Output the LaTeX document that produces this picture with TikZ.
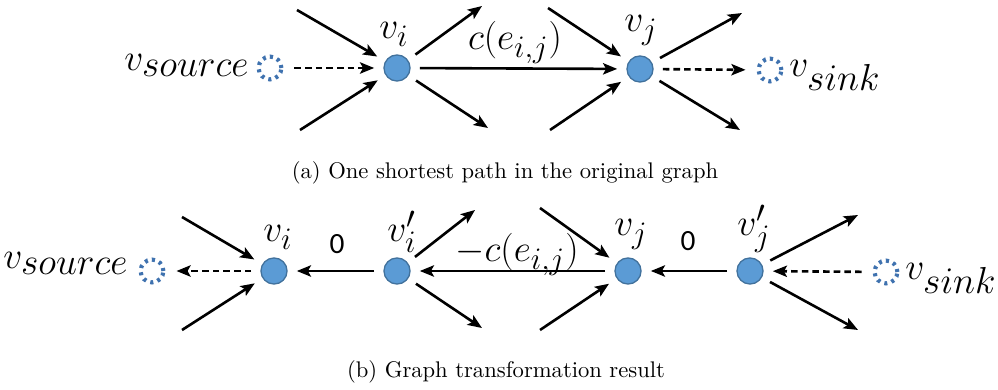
\documentclass[tikz,border=0pt]{standalone}
\usepackage{fontspec}
\usetikzlibrary{arrows.meta}
\newfontfamily\calib{Carlito}
\DeclareMathSizes{18}{18}{15.8}{12}
\DeclareMathSizes{19}{19}{16.8}{13}
\definecolor{vfill}{HTML}{5B9BD5}
\definecolor{vline}{HTML}{41719C}
\definecolor{gline}{HTML}{3F72AF}
\tikzset{
  vtx/.style={circle, fill=vfill, draw=vline, line width=0.6pt, minimum size=12pt, inner sep=0pt, outer sep=4.5pt},
  ghost/.style={circle, draw=gline, line width=1.9pt, dash pattern=on 1.4pt off 2.0pt, minimum size=10.5pt, inner sep=0pt, outer sep=6pt},
  arr/.style={line width=1.2pt, -{Stealth[length=6.5pt,width=5.2pt,inset=1.4pt]}},
  darr/.style={arr, dash pattern=on 3pt off 1.9pt},
  mlbl/.style={inner sep=0pt, font=\fontsize{18}{22}\selectfont},
  tlbl/.style={inner sep=0pt, font=\fontsize{19}{23}\selectfont},
  zlbl/.style={inner sep=0pt, font=\calib\fontsize{13.5}{16}\selectfont},
  captext/.style={inner sep=0pt, font=\fontsize{10.4}{12}\selectfont}
}
\begin{document}
\begin{tikzpicture}[x=0.46pt,y=-0.46pt]
\path (0,0) rectangle (998,390);
% ---------- (a) ----------
\node[vtx] (vi) at (397,68) {};
\node[vtx] (vj) at (640,69) {};
\node[ghost] (src) at (270,68) {};
\node[ghost] (snk) at (770,70) {};
\node[tlbl, anchor=base east] (lsrc) at (250,71) {$v_{source}$};
\node[tlbl, anchor=base west] (lsnk) at (789,77) {$v_{sink}$};
\node[mlbl, anchor=base] (lvi) at (394,39) {$v_i$};
\node[mlbl, anchor=base] (lvj) at (641,32) {$v_j$};
\node[mlbl, anchor=base] (lc) at (515,50) {$c(e_{i,j})$};
\coordinate (a1) at (297,10);
\coordinate (a2) at (300,130);
\coordinate (a3) at (482,6);
\coordinate (a4) at (488,128);
\coordinate (a5) at (548,8);
\coordinate (a6) at (550,130);
\coordinate (a7) at (742,13);
\coordinate (a8) at (740,130);
\draw[darr] (src) -- (vi);
\draw[arr] (a1) -- (vi);
\draw[arr] (a2) -- (vi);
\draw[arr] (vi) -- (a3);
\draw[arr] (vi) -- (a4);
\draw[arr] (vi) -- (vj);
\draw[arr] (a5) -- (vj);
\draw[arr] (a6) -- (vj);
\draw[arr] (vj) -- (a7);
\draw[arr] (vj) -- (a8);
\draw[darr] (vj) -- (snk);
\node[captext] (capa) at (505,173) {(a) One shortest path in the original graph};
% ---------- (b) ----------
\node[vtx] (bvi) at (274,271) {};
\node[vtx] (bvpi) at (397,271) {};
\node[vtx] (bvj) at (628,271) {};
\node[vtx] (bvpj) at (750,271) {};
\node[ghost] (bsrc) at (152,271) {};
\node[ghost] (bsnk) at (886,272) {};
\node[tlbl, anchor=base east] (blsrc) at (129,269) {$v_{source}$};
\node[tlbl, anchor=base west] (blsnk) at (905,280) {$v_{sink}$};
\node[mlbl, anchor=base] (blvi) at (278,242) {$v_i$};
\node[mlbl, anchor=base] (blvpi) at (402,242) {$v'_i$};
\node[mlbl, anchor=base] (blvj) at (631,236) {$v_j$};
\node[mlbl, anchor=base] (blvpj) at (754,236) {$v'_j$};
\node[mlbl, anchor=base] (blc) at (517,262) {$-c(e_{i,j})$};
\node[zlbl] (z1) at (337,244) {0};
\node[zlbl] (z2) at (688,241) {0};
\coordinate (b1) at (182,217);
\coordinate (b2) at (182,330);
\coordinate (b3) at (475,210);
\coordinate (b4) at (482,328);
\coordinate (b5) at (540,208);
\coordinate (b6) at (540,330);
\coordinate (b7) at (858,215);
\coordinate (b8) at (858,330);
\draw[darr] (bvi) -- (bsrc);
\draw[arr] (b1) -- (bvi);
\draw[arr] (b2) -- (bvi);
\draw[arr] (bvpi) -- (bvi);
\draw[arr] (bvpi) -- (b3);
\draw[arr] (bvpi) -- (b4);
\draw[arr] (bvj) -- (bvpi);
\draw[arr] (b5) -- (bvj);
\draw[arr] (b6) -- (bvj);
\draw[arr] (bvpj) -- (bvj);
\draw[arr] (bvpj) -- (b7);
\draw[arr] (bvpj) -- (b8);
\draw[darr] (bsnk) -- (bvpj);
\node[captext] (capb) at (506,372) {(b) Graph transformation result};
\end{tikzpicture}
\end{document}
